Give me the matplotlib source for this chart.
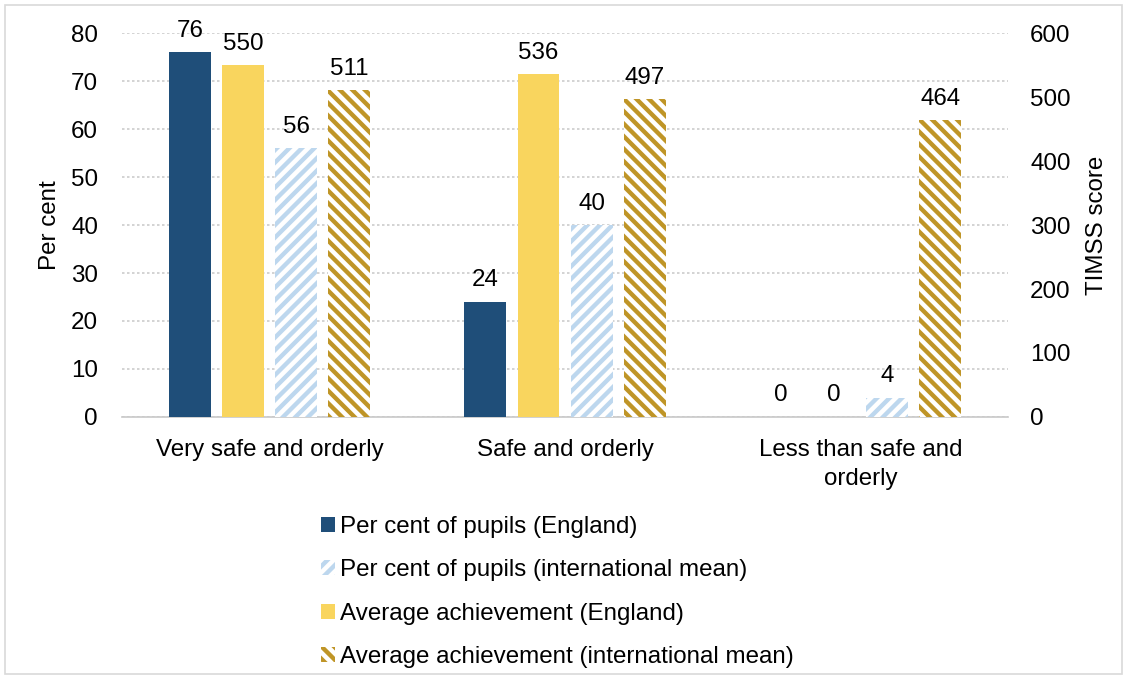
import matplotlib
matplotlib.use("Agg")
import matplotlib.pyplot as plt
from matplotlib.patches import Rectangle
import numpy as np

categories = ["Very safe and orderly", "Safe and orderly", "Less than safe and\norderly"]
pct_england = [76, 24, 0]
pct_international = [56, 40, 4]
ach_england = [550, 536, 0]
ach_international = [511, 497, 464]
left_ticks = [0, 10, 20, 30, 40, 50, 60, 70, 80]
right_ticks = [0, 100, 200, 300, 400, 500, 600]

legend_labels = ["Per cent of pupils (England)",
                 "Per cent of pupils (international mean)",
                 "Average achievement (England)",
                 "Average achievement (international mean)"]

NAVY = "#1f4e79"
YELLOW = "#f9d55e"
LIGHTBLUE = "#bdd7ee"
GOLD = "#bf9527"

DPI = 150
plt.rcParams['font.family'] = ['Liberation Sans', 'DejaVu Sans']
plt.rcParams['hatch.linewidth'] = 2.1
FS = 11.6

fig = plt.figure(figsize=(1129 / DPI, 679 / DPI), dpi=DPI)
ax = fig.add_axes([0.108, 0.386, 0.785, 0.565])
ax2 = ax.twinx()

x = np.arange(len(categories))
w = 0.142
step = 0.18

b1 = ax.bar(x - 1.5 * step, pct_england, w, color=NAVY, linewidth=0, zorder=3)
b3 = ax.bar(x + 0.5 * step, pct_international, w, facecolor="white", edgecolor=LIGHTBLUE,
            hatch="////", linewidth=0, zorder=3)
b2 = ax2.bar(x - 0.5 * step, ach_england, w, color=YELLOW, linewidth=0, zorder=3)
b4 = ax2.bar(x + 1.5 * step, ach_international, w, facecolor="white", edgecolor=GOLD,
             hatch="\\\\\\\\", linewidth=0, zorder=3)

for bars, vals, a in [(b1, pct_england, ax), (b3, pct_international, ax),
                      (b2, ach_england, ax2), (b4, ach_international, ax2)]:
    a.bar_label(bars, labels=[str(v) for v in vals], padding=5, fontsize=FS, color="#000000")

ax.set_ylim(0, 80)
ax2.set_ylim(0, 600)
ax.set_xlim(-0.5, 2.5)
ax.set_yticks(left_ticks)
ax2.set_yticks(right_ticks)
ax.set_xticks(x)
ax.set_xticklabels(categories, fontsize=FS, linespacing=1.45)
ax.tick_params(axis="x", length=0, pad=10.5)
ax.tick_params(axis="y", length=0, pad=11.5, labelsize=FS)
ax2.tick_params(axis="y", length=0, pad=10.5, labelsize=FS)

ax.yaxis.grid(True, color="#cccccc", linestyle=(0, (1.5, 1.5)), linewidth=0.8, zorder=0)
ax.set_axisbelow(True)
for a in (ax, ax2):
    for s in a.spines.values():
        s.set_visible(False)
ax.spines["bottom"].set_visible(True)
ax.spines["bottom"].set_color("#c8c8c8")
ax.spines["bottom"].set_linewidth(0.8)

ax.set_ylabel("Per cent", fontsize=FS)
ax2.set_ylabel("TIMSS score", fontsize=FS)
ax.yaxis.set_label_coords(-0.069, 0.5)
ax2.yaxis.set_label_coords(1.088, 0.5)

handles = [b1, b3, b2, b4]
fig.legend(handles, legend_labels, loc="upper left", bbox_to_anchor=(0.284, 0.2406),
           frameon=False, fontsize=FS, handlelength=0.58, handleheight=0.58,
           handletextpad=0.22, labelspacing=0.89, borderaxespad=0, borderpad=0)

fig.add_artist(Rectangle((0.004, 0.008), 0.99, 0.984, transform=fig.transFigure,
                         fill=False, edgecolor="#d9d9d9", linewidth=0.8))

fig.savefig("out.png", dpi=DPI)
